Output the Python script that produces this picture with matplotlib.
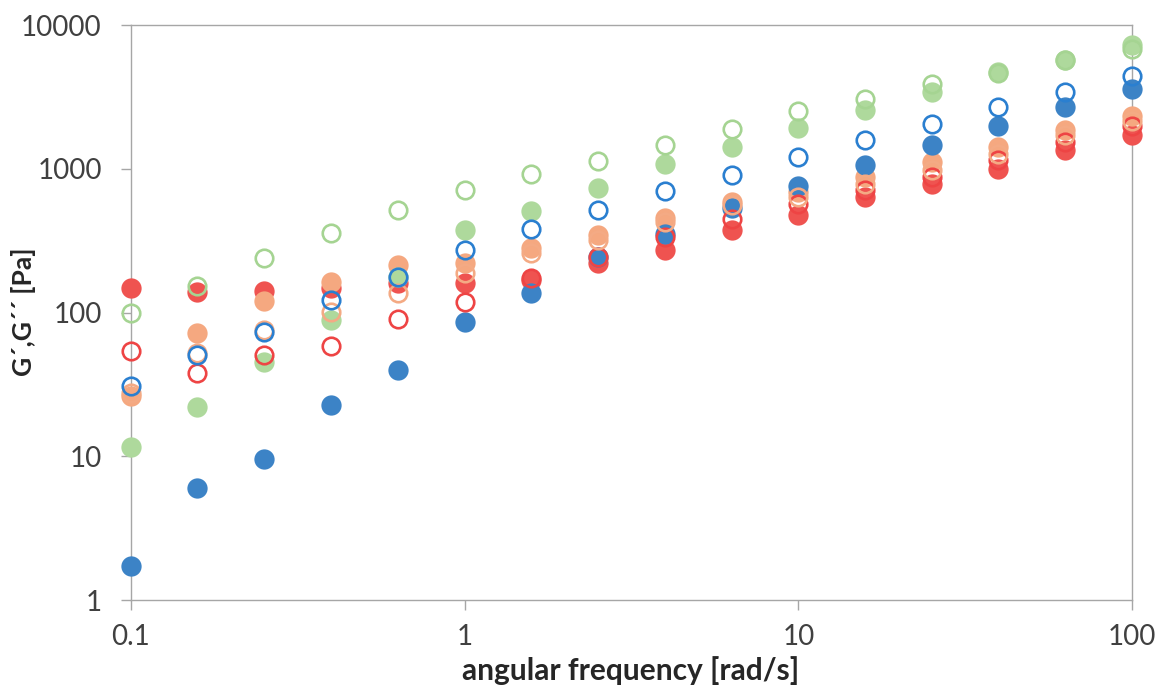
import matplotlib
matplotlib.use("Agg")
import matplotlib.pyplot as plt
from matplotlib.ticker import FixedLocator, NullLocator

plt.rcParams['font.family'] = ['Lato', 'DejaVu Sans']

# angular frequency [rad/s]
freq = [0.1, 0.158, 0.251, 0.398, 0.631, 1, 1.58, 2.51, 3.98, 6.31,
        10, 15.8, 25.1, 39.8, 63.1, 100]

# moduli [Pa]
blue_fill = [1.73, 6.0, 9.6, 22.9, 40, 86, 136, 242, 349, 537,
             759, 1056, 1452, 1968, 2710, 3590]
blue_open = [30.6, 50.8, 73.8, 122, 178, 272, 384, 520, 697, 910,
             1205, 1574, 2055, 2680, 3440, 4446]
green_fill = [11.6, 21.9, 45.2, 88.9, 177, 378, 509, 735, 1084, 1413,
              1927, 2570, 3404, 4690, 5710, 7290]
green_open = [100, 154, 240, 355, 520, 708, 925, 1130, 1452, 1897,
              2512, 3063, 3890, 4650, 5680, 6810]
red_fill = [149, 138, 142, 147, 160, 160, 168, 220, 272, 374,
            478, 636, 789, 1002, 1341, 1705]
red_open = [54, 37.9, 50.8, 58.7, 89.9, 119, 175, 242, 336, 444,
            565, 708, 877, 1143, 1532, 1968]
orange_fill = [26.4, 71.8, 120, 164, 214, 220, 279, 345, 458, 587,
               689, 877, 1113, 1413, 1846, 2344]
orange_open = [27.5, 52, 75, 101, 137, 187, 258, 319, 427, 560,
               636, 789, 975, 1273, 1705, 2166]

x_ticks = [0.1, 1, 10, 100]
x_labels = ['0.1', '1', '10', '100']
y_ticks = [1, 10, 100, 1000, 10000]
y_labels = ['1', '10', '100', '1000', '10000']

c_blue = '#3C83C6'
c_green = '#AED99C'
c_red = '#EF5350'
c_orange = '#F5A880'
grey = '#A6A6A6'

fig = plt.figure(figsize=(11.59, 6.85), dpi=100)
ax = fig.add_axes([0.113, 0.124, 0.8637, 0.8395])

# filled symbols first
for ys, c in [(red_fill, c_red), (orange_fill, c_orange),
              (green_fill, c_green), (blue_fill, c_blue)]:
    ax.plot(freq, ys, 'o', ms=14.6, mfc=c, mec=c, mew=0, ls='none',
            clip_on=False, zorder=3)

# open symbols on top (no face)
for ys, c in [(red_open, '#EE4444'), (orange_open, '#F4AA84'),
              (green_open, '#A5D492'), (blue_open, '#2A7FD0')]:
    ax.plot(freq, ys, 'o', ms=12.6, mfc='none', mec=c, mew=1.9, ls='none',
            clip_on=False, zorder=4)

ax.set_xscale('log')
ax.set_yscale('log')
ax.set_xlim(0.1, 100)
ax.set_ylim(1, 10000)

ax.xaxis.set_major_locator(FixedLocator(x_ticks))
ax.xaxis.set_minor_locator(NullLocator())
ax.set_xticklabels(x_labels)
ax.yaxis.set_major_locator(FixedLocator(y_ticks))
ax.yaxis.set_minor_locator(NullLocator())
ax.set_yticklabels(y_labels)

for sp in ax.spines.values():
    sp.set_color(grey)
    sp.set_linewidth(1.0)
ax.tick_params(axis='both', direction='out', length=7, width=1.0, color=grey,
               labelsize=20, labelcolor='#404040')
ax.tick_params(axis='x', pad=10)
ax.tick_params(axis='y', pad=14)

fig.text(631 / 1159, 1 - 680 / 685, 'angular frequency [rad/s]',
         fontsize=21.5, fontweight='bold', color='#262626',
         ha='center', va='baseline')
fig.text(24 / 1159, 1 - 312 / 685, 'G´,G´´ [Pa]', rotation=90,
         fontsize=19, fontweight='bold', color='#262626',
         ha='center', va='center')

fig.savefig('out.png', dpi=100)
